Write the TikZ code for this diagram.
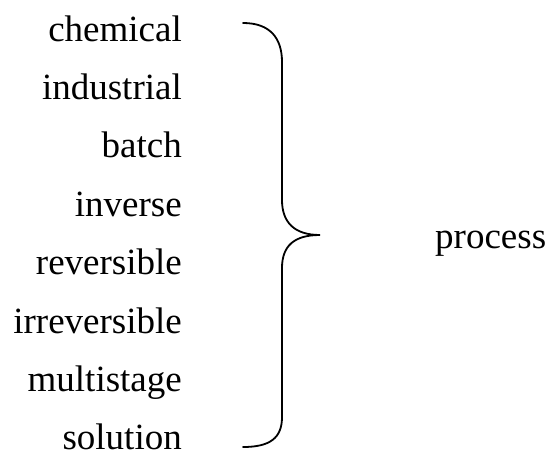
\documentclass[tikz,border=0pt]{standalone}
\usepackage{fontspec}
\setmainfont{Liberation Serif}
\begin{document}
\begin{tikzpicture}[x=1pt, y=-1pt,
    word/.style={anchor=base east, inner sep=0pt, font=\fontsize{37}{44}\selectfont},
    result/.style={anchor=base west, inner sep=0pt, font=\fontsize{37}{44}\selectfont},
    bracket/.style={line width=1.8pt, line cap=round}]
    \useasboundingbox (0, 0) rectangle (548, 455);

    % ===== Adjectives (left column) =====
    \node[word] (chemical) at (182, 41) {chemical};
    \node[word] (industrial) at (182, 99.4) {industrial};
    \node[word] (batch) at (182, 157.8) {batch};
    \node[word] (inverse) at (182, 216.2) {inverse};
    \node[word] (reversible) at (182, 274.6) {reversible};
    \node[word] (irreversible) at (182, 333) {irreversible};
    \node[word] (multistage) at (182, 391.4) {multistage};
    \node[word] (solution) at (182, 449.8) {solution};

    % ===== Brace =====
    \coordinate (top) at (243, 23);
    \coordinate (tip) at (320, 235);
    \coordinate (bottom) at (243, 447);
    \draw[bracket] (top) .. controls (270, 23) and (282, 38) .. (282, 62)
        -- (282, 200) .. controls (282, 222) and (294, 235) .. (tip)
        .. controls (294, 235) and (282, 246) .. (282, 268)
        -- (282, 417) .. controls (282, 438) and (270, 447) .. (bottom);

    % ===== Noun (right side) =====
    \node[result] (process) at (435, 248) {process};
\end{tikzpicture}
\end{document}
